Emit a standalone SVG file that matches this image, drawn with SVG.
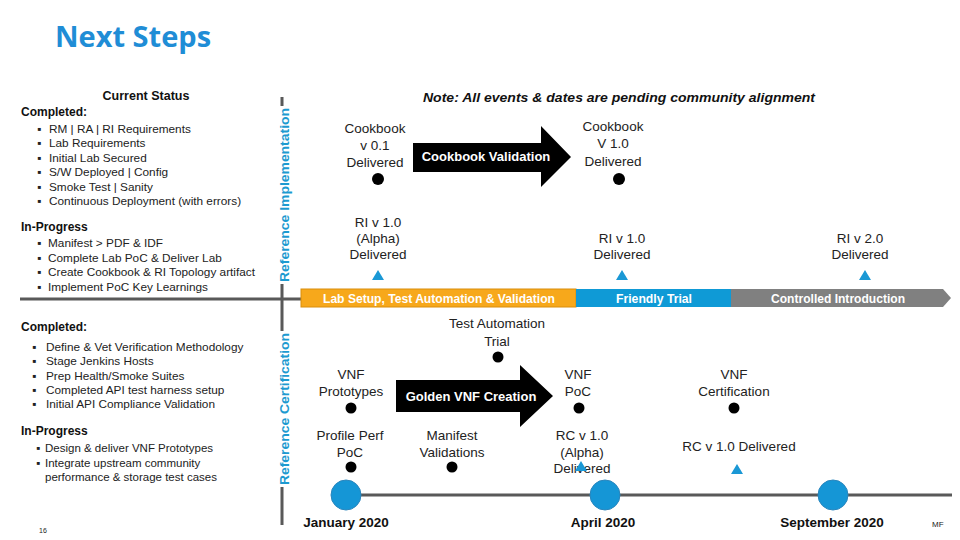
<svg xmlns="http://www.w3.org/2000/svg" width="960" height="540" viewBox="0 0 960 540">
<style>
text{font-family:"Liberation Sans",Arial,sans-serif;fill:#1a1a1a}
.t{font-family:"Open Sans","Liberation Sans",sans-serif;font-weight:bold;font-size:29px;fill:#1f8dd6}
.h{font-weight:bold;font-size:12px;fill:#111}
.b{font-size:11.8px;fill:#222}
.bs{font-size:11.5px;fill:#222}
.m{font-size:13.5px;text-anchor:middle;fill:#222}
.vl{font-weight:bold;font-size:12px;fill:#1d9ad0;text-anchor:middle}
.bar{font-weight:bold;font-size:12px;fill:#fff;text-anchor:middle}
.ar{font-weight:bold;font-size:13px;fill:#fff;text-anchor:middle}
.d{font-weight:bold;font-size:13.5px;text-anchor:middle;fill:#111}
.ln{stroke:#595959;stroke-width:3;fill:none}
.dot{fill:#000}
.tri{fill:#1a98d5}
.mc{fill:#1596d6;stroke:#2b86bd;stroke-width:1}
</style>
<defs>
<polygon id="tri" points="0,-5 6,5 -6,5"/>
</defs>
<rect width="960" height="540" fill="#fff"/>
<text class="t" x="55" y="47">Next Steps</text>

<g id="frame">
<path class="ln" d="M282,97V106M282,284V331M282,487V525M20,299H301"/>
<text class="vl" transform="translate(288.5,195) rotate(-90)" textLength="174" lengthAdjust="spacingAndGlyphs">Reference Implementation</text>
<text class="vl" transform="translate(288.5,409) rotate(-90)" textLength="152" lengthAdjust="spacingAndGlyphs">Reference Certification</text>
</g>

<g id="status-ri">
<text x="146" y="100" style="font-weight:bold;font-size:12.5px;text-anchor:middle;fill:#111">Current Status</text>
<text class="h" x="21" y="116">Completed:</text>
<text class="b" x="37" y="133">▪</text><text class="b" x="49" y="133">RM | RA | RI Requirements</text>
<text class="b" x="37" y="147">▪</text><text class="b" x="49" y="147">Lab Requirements</text>
<text class="b" x="37" y="162">▪</text><text class="b" x="49" y="162">Initial Lab Secured</text>
<text class="b" x="37" y="176">▪</text><text class="b" x="49" y="176">S/W Deployed | Config</text>
<text class="b" x="37" y="191">▪</text><text class="b" x="49" y="191">Smoke Test | Sanity</text>
<text class="b" x="37" y="205">▪</text><text class="b" x="49" y="205">Continuous Deployment (with errors)</text>
<text class="h" x="21" y="231">In-Progress</text>
<text class="b" x="37" y="247">▪</text><text class="b" x="48" y="247">Manifest &gt; PDF &amp; IDF</text>
<text class="b" x="37" y="262">▪</text><text class="b" x="48" y="262">Complete Lab PoC &amp; Deliver Lab</text>
<text class="b" x="37" y="276">▪</text><text class="b" x="48" y="276">Create Cookbook &amp; RI Topology artifact</text>
<text class="b" x="37" y="291">▪</text><text class="b" x="48" y="291">Implement PoC Key Learnings</text>
</g>

<g id="status-rc">
<text class="h" x="21" y="331">Completed:</text>
<text class="b" x="32" y="351">▪</text><text class="b" x="46" y="351">Define &amp; Vet Verification Methodology</text>
<text class="b" x="32" y="365">▪</text><text class="b" x="46" y="365">Stage Jenkins Hosts</text>
<text class="b" x="32" y="380">▪</text><text class="b" x="46" y="380">Prep Health/Smoke Suites</text>
<text class="b" x="32" y="394">▪</text><text class="b" x="46" y="394">Completed API test harness setup</text>
<text class="b" x="32" y="408">▪</text><text class="b" x="46" y="408">Initial API Compliance Validation</text>
<text class="h" x="21" y="435">In-Progress</text>
<text class="bs" x="36" y="452">▪</text><text class="bs" x="45" y="452">Design &amp; deliver VNF Prototypes</text>
<text class="bs" x="36" y="467">▪</text><text class="bs" x="45" y="467">Integrate upstream community</text>
<text class="bs" x="45" y="481">performance &amp; storage test cases</text>
<text x="39" y="533" style="font-size:7px;fill:#222">16</text>
</g>

<text x="423" y="102" textLength="392" lengthAdjust="spacingAndGlyphs" style="font-weight:bold;font-style:italic;font-size:12.5px;fill:#111">Note: All events &amp; dates are pending community alignment</text>

<g id="cookbook-v01">
<text class="m" x="375" y="133">Cookbook</text>
<text class="m" x="375" y="150">v 0.1</text>
<text class="m" x="375" y="167">Delivered</text>
<circle class="dot" cx="378" cy="179" r="6"/>
</g>
<g id="cookbook-validation">
<polygon points="413,143 541,143 541,126 571,157 541,187 541,172 413,172" fill="#000"/>
<text class="ar" x="486" y="161" font-size="12.5">Cookbook Validation</text>
</g>
<g id="cookbook-v10">
<text class="m" x="613" y="131">Cookbook</text>
<text class="m" x="613" y="148">V 1.0</text>
<text class="m" x="613" y="166">Delivered</text>
<circle class="dot" cx="619" cy="179" r="6"/>
</g>
<g id="ri-alpha">
<text class="m" x="378" y="227">RI v 1.0</text>
<text class="m" x="378" y="243">(Alpha)</text>
<text class="m" x="378" y="259">Delivered</text>
<use href="#tri" class="tri" x="378" y="275"/>
</g>
<g id="ri-v10">
<text class="m" x="622" y="243">RI v 1.0</text>
<text class="m" x="622" y="259">Delivered</text>
<use href="#tri" class="tri" x="622" y="275"/>
</g>
<g id="ri-v20">
<text class="m" x="860" y="243">RI v 2.0</text>
<text class="m" x="860" y="259">Delivered</text>
<use href="#tri" class="tri" x="865" y="275"/>
</g>

<g id="phase-bar">
<rect x="301" y="289" width="275" height="18" fill="#f7a81b" stroke="#d98e0c" stroke-width="1"/>
<rect x="576" y="289" width="155" height="18" fill="#0f9ad6"/>
<polygon points="731,289 943,289 951,298 943,307 731,307" fill="#808080"/>
<text class="bar" x="439" y="302.5" textLength="232" lengthAdjust="spacingAndGlyphs">Lab Setup, Test Automation &amp; Validation</text>
<text class="bar" x="654" y="302.5" textLength="76" lengthAdjust="spacingAndGlyphs">Friendly Trial</text>
<text class="bar" x="838" y="302.5" textLength="134" lengthAdjust="spacingAndGlyphs">Controlled Introduction</text>
</g>

<g id="test-automation-trial">
<text class="m" x="497" y="328">Test Automation</text>
<text class="m" x="497" y="346">Trial</text>
<circle class="dot" cx="498" cy="357" r="5.5"/>
</g>
<g id="vnf-prototypes">
<text class="m" x="351" y="379">VNF</text>
<text class="m" x="351" y="396">Prototypes</text>
<circle class="dot" cx="351" cy="408" r="5.5"/>
</g>
<g id="golden-vnf">
<polygon points="396,380 520,380 520,365 553,396 520,427 520,412 396,412" fill="#000"/>
<text class="ar" x="471" y="401">Golden VNF Creation</text>
</g>
<g id="vnf-poc">
<text class="m" x="578" y="379">VNF</text>
<text class="m" x="578" y="396">PoC</text>
<circle class="dot" cx="579" cy="408" r="5.5"/>
</g>
<g id="vnf-cert">
<text class="m" x="734" y="379">VNF</text>
<text class="m" x="734" y="396">Certification</text>
<circle class="dot" cx="734" cy="408" r="5.5"/>
</g>
<g id="profile-perf">
<text class="m" x="350" y="440">Profile Perf</text>
<text class="m" x="350" y="457">PoC</text>
<circle class="dot" cx="351" cy="467" r="5.5"/>
</g>
<g id="manifest-validations">
<text class="m" x="452" y="440">Manifest</text>
<text class="m" x="452" y="457">Validations</text>
<circle class="dot" cx="452" cy="467" r="5.5"/>
</g>
<g id="rc-alpha">
<text class="m" x="582" y="440">RC v 1.0</text>
<text class="m" x="582" y="457">(Alpha)</text>
<text class="m" x="582" y="473">Delivered</text>
<use href="#tri" class="tri" x="581" y="466"/>
</g>
<g id="rc-v10">
<text class="m" x="739" y="451">RC v 1.0 Delivered</text>
<use href="#tri" class="tri" x="737" y="469"/>
</g>

<g id="connectors">
<path class="ln" d="M346,495H952"/>
</g>
<g id="jan-2020">
<circle class="mc" cx="346" cy="495" r="15"/>
<text class="d" x="346" y="527">January 2020</text>
</g>
<g id="apr-2020">
<circle class="mc" cx="605" cy="495" r="15"/>
<text class="d" x="603" y="527">April 2020</text>
</g>
<g id="sep-2020">
<circle class="mc" cx="833" cy="495" r="15"/>
<text class="d" x="832" y="527">September 2020</text>
</g>
<text x="932" y="527" style="font-size:8px;fill:#222">MF</text>
</svg>
